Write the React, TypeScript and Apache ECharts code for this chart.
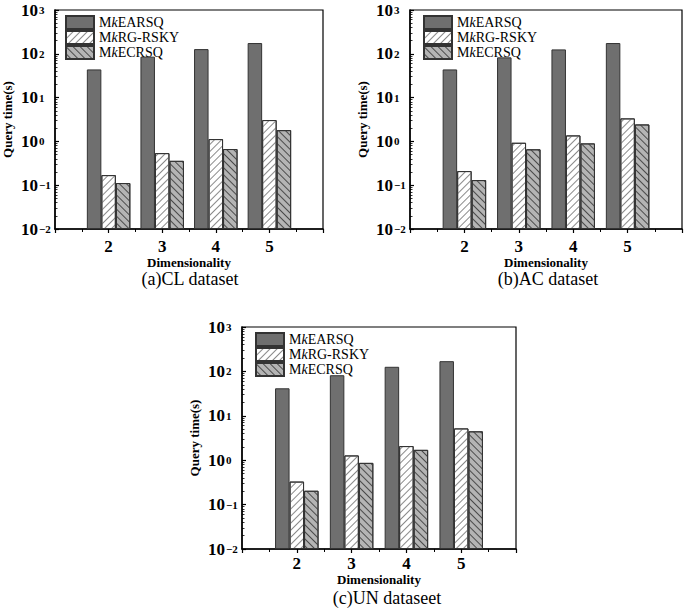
import React, { useEffect, useRef } from "react";
import * as echarts from "echarts";

const dims = [2, 3, 4, 5];
const seriesNames = ["MkEARSQ", "MkRG-RSKY", "MkECRSQ"];

const clEarsq = [44, 86, 128, 176];
const clRg = [0.17, 0.54, 1.13, 3.07];
const clEc = [0.112, 0.36, 0.67, 1.81];

const acEarsq = [44, 83, 126, 176];
const acRg = [0.21, 0.93, 1.37, 3.35];
const acEc = [0.131, 0.66, 0.9, 2.44];

const unEarsq = [41.6, 82, 127, 170];
const unRg = [0.33, 1.28, 2.08, 5.2];
const unEc = [0.205, 0.87, 1.71, 4.47];

const captions = ["(a)CL dataset", "(b)AC dataset", "(c)UN dataseet"];
const yName = "Query time(s)";
const xName = "Dimensionality";
const yMin = 0.01;
const yMax = 1000;

const SERIF = "Liberation Serif";

const panels = [
  { data: [clEarsq, clRg, clEc], grid: { left: 52, top: 10, width: 271, height: 219 }, cap: [190, 279], lm: 9, ng: 24 },
  { data: [acEarsq, acRg, acEc], grid: { left: 410, top: 10, width: 273, height: 219 }, cap: [548, 279], lm: 9, ng: 24 },
  { data: [unEarsq, unRg, unEc], grid: { left: 242, top: 327, width: 274, height: 222 }, cap: [387, 598], lm: 6, ng: 22 },
];

const seriesStyles: any[] = [
  { color: "#6f6f6f", borderColor: "#333", borderWidth: 1 },
  {
    color: "#ffffff",
    borderColor: "#333",
    borderWidth: 1,
    decal: { symbol: "rect", symbolSize: 1, dashArrayX: [1, 0], dashArrayY: [1, 3.5], rotation: -Math.PI / 4, color: "#8a8a8a" },
  },
  {
    color: "#b4b4b4",
    borderColor: "#333",
    borderWidth: 1,
    decal: { symbol: "rect", symbolSize: 1, dashArrayX: [1, 0], dashArrayY: [1, 3.5], rotation: Math.PI / 4, color: "#4a4a4a" },
  },
];

const expOf = (v: number) => Math.round(Math.log10(v));

export default function App() {
  const ref = useRef<HTMLDivElement>(null);
  useEffect(() => {
    document.body.style.margin = "0";
    const chart = echarts.init(ref.current!, null, { renderer: "svg" });
    const grid: any[] = [];
    const xAxis: any[] = [];
    const yAxis: any[] = [];
    const series: any[] = [];
    const legend: any[] = [];
    const graphic: any[] = [];
    panels.forEach((p, gi) => {
      grid.push({ ...p.grid, show: true, borderColor: "#000", borderWidth: 1.2, backgroundColor: "transparent" });
      xAxis.push({
        type: "value",
        gridIndex: gi,
        min: 1,
        max: 6,
        interval: 1,
        name: xName,
        nameLocation: "middle",
        nameGap: p.ng,
        nameTextStyle: { fontFamily: SERIF, fontWeight: "bold", fontSize: 13, color: "#000", lineHeight: 13 },
        axisLine: { show: true, lineStyle: { color: "#000", width: 1.5 } },
        axisTick: { show: true, inside: false, length: 4, lineStyle: { color: "#000", width: 1.2 } },
        minorTick: { show: true, splitNumber: 2, length: 3, lineStyle: { color: "#000", width: 1 } },
        splitLine: { show: false },
        axisLabel: {
          margin: p.lm,
          fontFamily: SERIF,
          fontWeight: "bold",
          fontSize: 17,
          color: "#000",
          formatter: (v: number) => (dims.indexOf(v) >= 0 ? String(v) : ""),
        },
      });
      const primaryIndex = yAxis.length;
      yAxis.push({
        type: "log",
        logBase: 10,
        gridIndex: gi,
        position: "left",
        min: yMin,
        max: yMax,
        startValue: yMin,
        name: yName,
        nameLocation: "middle",
        nameGap: 41,
        nameTextStyle: { fontFamily: SERIF, fontWeight: "bold", fontSize: 13, color: "#000" },
        axisLine: { show: true, onZero: false, lineStyle: { color: "#000", width: 1.5 } },
        axisTick: { show: true, inside: true, length: 4, lineStyle: { color: "#000", width: 1.2 } },
        minorTick: { show: true, splitNumber: 9, length: 2.5, lineStyle: { color: "#000", width: 0.8 } },
        splitLine: { show: false },
        axisLabel: {
          margin: 17,
          fontFamily: SERIF,
          fontWeight: "bold",
          fontSize: 17,
          color: "#000",
          verticalAlign: "middle",
          padding: [3, 0, 0, 0],
          formatter: () => "10",
        },
      });
      yAxis.push({
        type: "log",
        logBase: 10,
        gridIndex: gi,
        position: "left",
        offset: 0,
        min: yMin,
        max: yMax,
        axisLine: { show: false },
        axisTick: { show: false },
        minorTick: { show: false },
        splitLine: { show: false },
        axisLabel: {
          margin: 16,
          align: "left",
          fontFamily: SERIF,
          fontWeight: "bold",
          fontSize: 11,
          color: "#000",
          verticalAlign: "middle",
          padding: [0, 0, 6, 0],
          formatter: (v: number) => {
            const e = expOf(v);
            return e < 0 ? "\u2212" + -e : String(e);
          },
        },
      });
      p.data.forEach((vals, si) => {
        series.push({
          type: "bar",
          name: seriesNames[si],
          xAxisIndex: gi,
          yAxisIndex: primaryIndex,
          barWidth: 14.5,
          barGap: "0%",
          itemStyle: seriesStyles[si],
          data: vals.map((v, i) => [dims[i], v]),
        });
      });
      legend.push({
        orient: "vertical",
        left: p.grid.left + 8,
        top: p.grid.top,
        itemWidth: 28,
        itemHeight: 13,
        itemGap: 0,
        icon: "rect",
        selectedMode: false,
        data: seriesNames,
        formatter: (n: string) => n.replace("Mk", "M{k|k}"),
        textStyle: {
          fontFamily: SERIF,
          fontSize: 14,
          color: "#000",
          lineHeight: 13,
          rich: { k: { fontFamily: SERIF, fontSize: 14, fontStyle: "italic", color: "#000", lineHeight: 13 } },
        },
      });
      graphic.push({
        type: "text",
        x: p.cap[0],
        y: p.cap[1],
        style: { text: captions[gi], fontFamily: SERIF, fontSize: 18, lineHeight: 16, fill: "#000", align: "center", verticalAlign: "middle" },
      });
    });
    chart.setOption({ animation: false, grid, xAxis, yAxis, series, legend, graphic });
    return () => chart.dispose();
  }, []);
  return <div ref={ref} style={{ width: 685, height: 608 }} />;
}
